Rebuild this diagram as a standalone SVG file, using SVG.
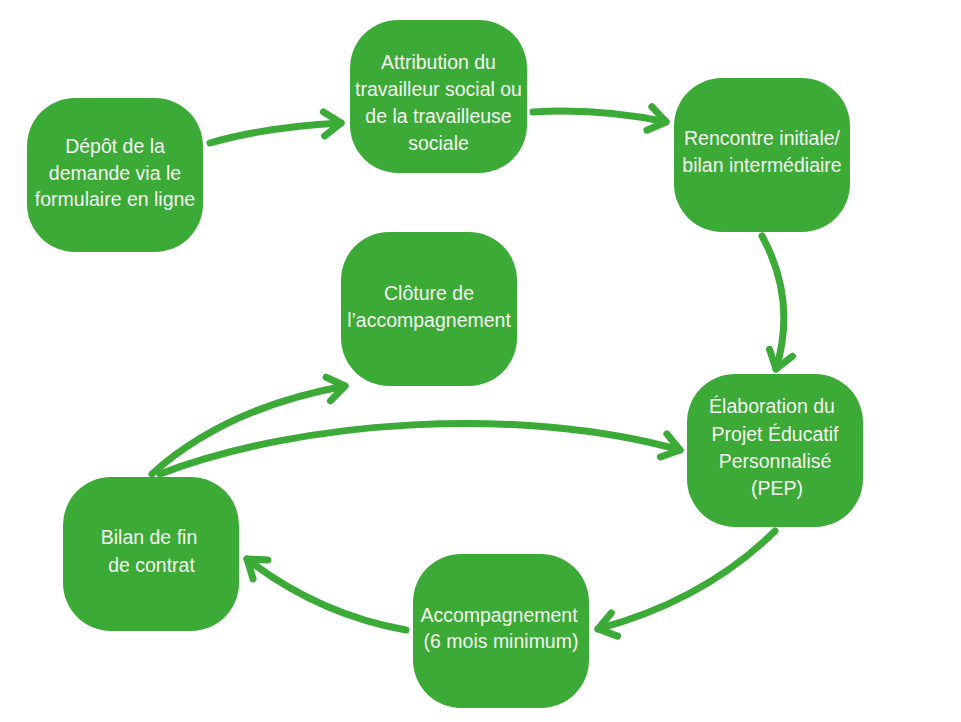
<svg xmlns="http://www.w3.org/2000/svg" width="961" height="722" viewBox="0 0 961 722">
<defs>
<style>
.node rect{fill:#3caa36;}
.node text{font-family:"Liberation Sans",Arial,sans-serif;font-size:19.5px;fill:#f4f7f1;text-anchor:middle;}
.conn path{fill:none;stroke:#3caa36;stroke-width:7;stroke-linecap:round;}
</style>
<marker id="arr" markerUnits="userSpaceOnUse" orient="auto" refX="0" refY="0" markerWidth="40" markerHeight="40" overflow="visible">
<path d="M-17,-12 L0,0 L-17,12" fill="none" stroke="#3caa36" stroke-width="7" stroke-linecap="round" stroke-linejoin="round"/>
</marker>
</defs>
<rect width="961" height="722" fill="#ffffff"/>
<g class="conn" id="connectors">
<path d="M210,143 Q265,127 341,123" marker-end="url(#arr)"/>
<path d="M533,112 Q600,108 666,122" marker-end="url(#arr)"/>
<path d="M762,236 Q797,300 776,369" marker-end="url(#arr)"/>
<path d="M775,531 Q705,600 598,629" marker-end="url(#arr)"/>
<path d="M406,630 Q318,614 247,559" marker-end="url(#arr)"/>
<path d="M152,474 Q225,408 345,386" marker-end="url(#arr)"/>
<path d="M160,474 C300,420 520,405 680,450" marker-end="url(#arr)"/>
</g>
<g class="node" id="n1">
<rect x="27" y="98" width="176" height="154" rx="48"/>
<text x="115" y="153">Dépôt de la</text>
<text x="115" y="179.5">demande via le</text>
<text x="115" y="206">formulaire en ligne</text>
</g>
<g class="node" id="n2">
<rect x="350" y="20" width="177" height="153" rx="48"/>
<text x="438.5" y="69">Attribution du</text>
<text x="438.5" y="96">travailleur social ou</text>
<text x="438.5" y="122.5">de la travailleuse</text>
<text x="438.5" y="149.5">sociale</text>
</g>
<g class="node" id="n3">
<rect x="674" y="78" width="176" height="154" rx="48"/>
<text x="762" y="145">Rencontre initiale/</text>
<text x="762" y="171.5">bilan intermédiaire</text>
</g>
<g class="node" id="n4">
<rect x="341" y="232" width="176" height="154" rx="48"/>
<text x="429" y="300">Clôture de</text>
<text x="429" y="327">l’accompagnement</text>
</g>
<g class="node" id="n5">
<rect x="687" y="374" width="176" height="153" rx="48"/>
<text x="772" y="413">Élaboration du</text>
<text x="775" y="440.5">Projet Éducatif</text>
<text x="775" y="467.5">Personnalisé</text>
<text x="777" y="495">(PEP)</text>
</g>
<g class="node" id="n6">
<rect x="413" y="554" width="176" height="154" rx="48"/>
<text x="499" y="621.5">Accompagnement</text>
<text x="501" y="648">(6 mois minimum)</text>
</g>
<g class="node" id="n7">
<rect x="63" y="477" width="176" height="154" rx="48"/>
<text x="149" y="544">Bilan de fin</text>
<text x="151.5" y="571.5">de contrat</text>
</g>
</svg>
